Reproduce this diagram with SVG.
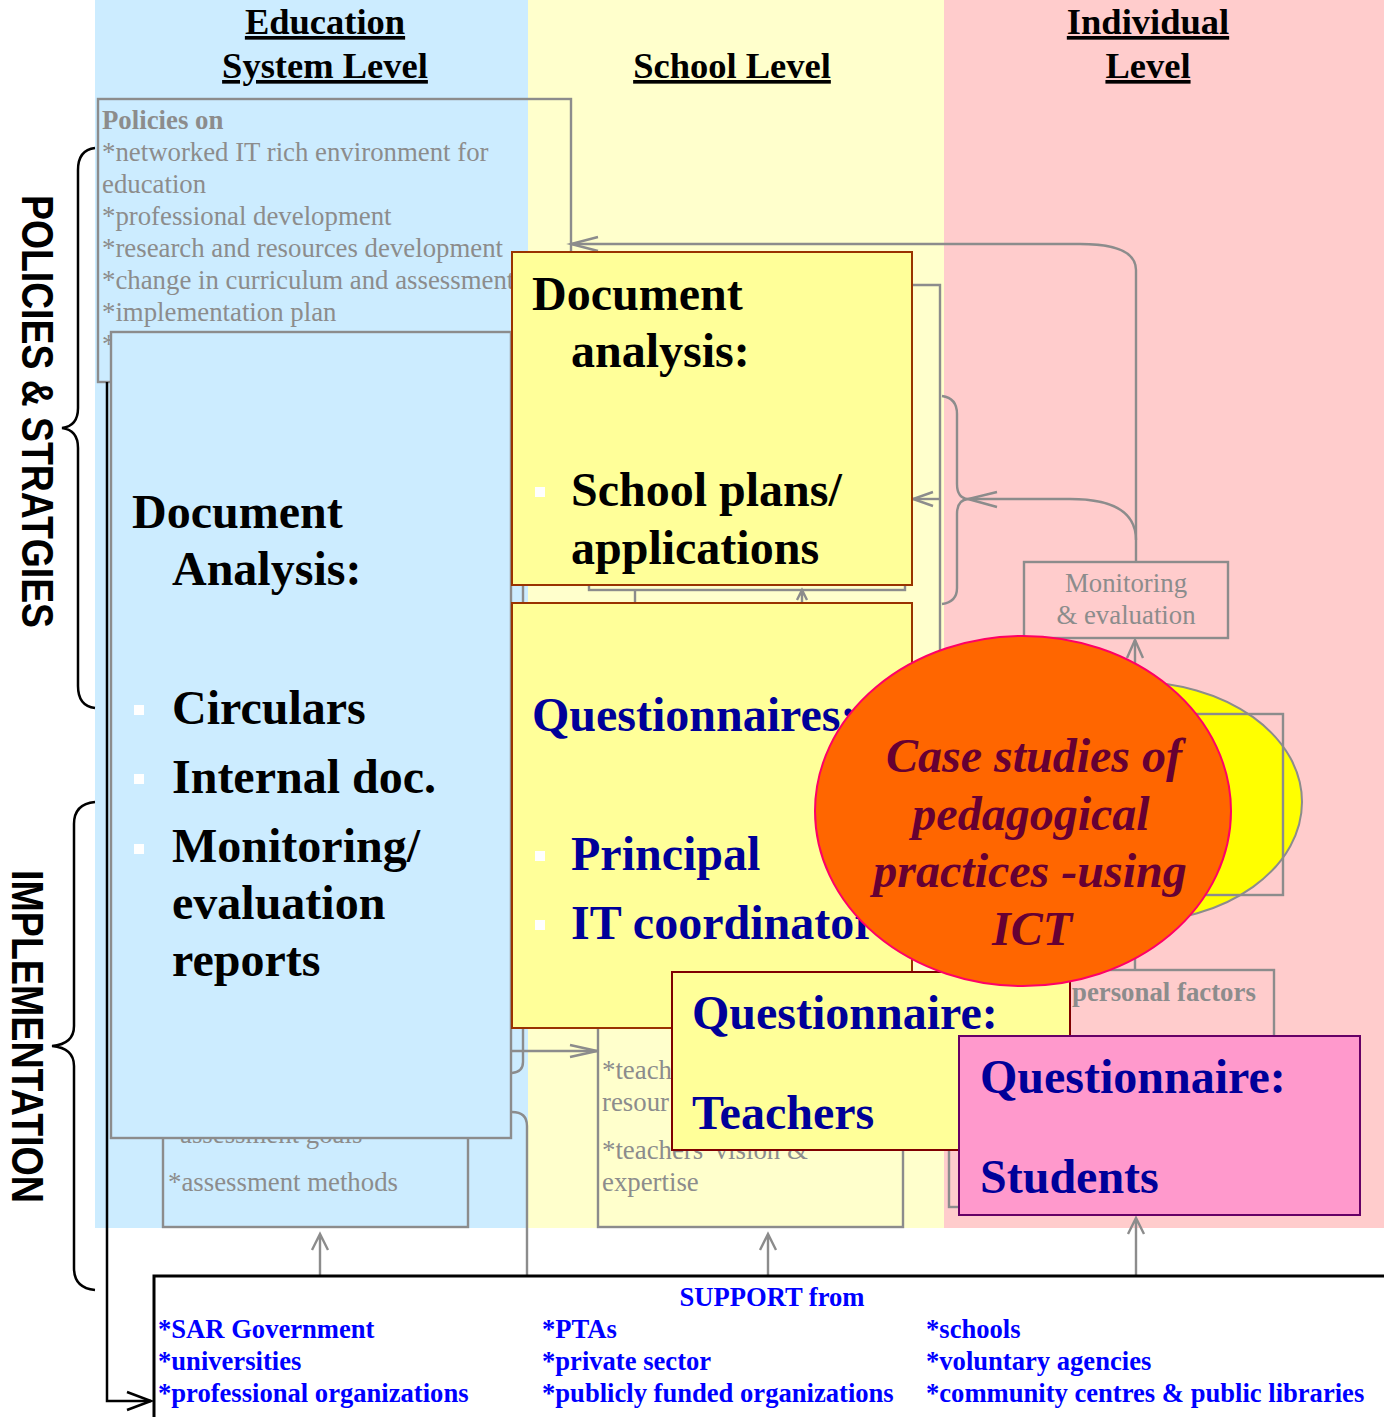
<svg xmlns="http://www.w3.org/2000/svg" width="1384" height="1417" viewBox="0 0 1384 1417">
<style>
.g{stroke:#8c8c8c;stroke-width:2.4;fill:none}
.gt{font-family:'Liberation Serif',serif;font-size:26.8px;fill:#8c8c8c}
.bt{font-family:'Liberation Serif',serif;font-size:48px;font-weight:bold}
.hdr{font-family:'Liberation Serif',serif;font-size:36.5px;font-weight:bold;text-decoration:underline;text-anchor:middle;fill:#000}
.side{font-family:'Liberation Sans',Arial,sans-serif;font-size:44px;font-weight:bold;fill:#000}
.sup{font-family:'Liberation Serif',serif;font-size:26.6px;font-weight:bold;fill:#0000ff}
.blk{stroke:#000;stroke-width:2.5;fill:none}
.bul{fill:#fff}
.navy{fill:#000099}
</style>
<rect width="1384" height="1417" fill="#fff"/>
<g id="bands">
<rect x="95" y="0" width="433" height="1228" fill="#ccecff"/>
<rect x="528" y="0" width="416" height="1228" fill="#ffffcc"/>
<rect x="944" y="0" width="440" height="1228" fill="#ffcccc"/>
</g>
<g id="headers">
<text class="hdr" x="325" y="34">Education</text>
<text class="hdr" x="325" y="78">System Level</text>
<text class="hdr" x="732" y="78">School Level</text>
<text class="hdr" x="1148" y="34">Individual</text>
<text class="hdr" x="1148" y="78">Level</text>
</g>
<g id="side-labels">
<text class="side" transform="translate(22,195) rotate(90)" textLength="433" lengthAdjust="spacingAndGlyphs">POLICIES &amp; STRATGIES</text>
<text class="side" transform="translate(12,870) rotate(90)" textLength="333" lengthAdjust="spacingAndGlyphs">IMPLEMENTATION</text>
<path class="blk" d="M95 148 Q78 150 78 170 V408 Q78 426 62 428 Q78 430 78 448 V686 Q78 706 95 708"/>
<path class="blk" d="M95 802 Q74 804 74 824 V1026 Q74 1044 52 1046 Q74 1048 74 1066 V1268 Q74 1288 95 1290"/>
</g>
<g id="policies">
<rect class="g" x="98" y="99" width="473" height="283"/>
<text class="gt" x="102" y="129" font-weight="bold">Policies on</text>
<text class="gt" x="102" y="161">*networked IT rich environment for</text>
<text class="gt" x="102" y="193">education</text>
<text class="gt" x="102" y="225">*professional development</text>
<text class="gt" x="102" y="257">*research and resources development</text>
<text class="gt" x="102" y="289">*change in curriculum and assessment</text>
<text class="gt" x="102" y="321">*implementation plan</text>
<text class="gt" x="102" y="353">*</text>
</g>
<g id="assessment">
<rect class="g" x="163" y="900" width="305" height="327"/>
<text class="gt" x="180" y="1143">assessment goals</text>
<text class="gt" x="168" y="1191">*assessment methods</text>
</g>
<g id="school-box">
<rect class="g" x="589" y="300" width="316" height="290"/>
</g>
<g id="teachers-info">
<rect class="g" x="598" y="1000" width="305" height="227"/>
<text class="gt" x="602" y="1079">*teach</text>
<text class="gt" x="602" y="1111">resour</text>
<text class="gt" x="602" y="1159">*teachers' vision &amp;</text>
<text class="gt" x="602" y="1191">expertise</text>
</g>
<g id="personal">
<rect class="g" x="949" y="970" width="325" height="237"/>
<text class="gt" x="1072" y="1001" font-weight="bold">personal factors</text>
</g>
<g id="monitoring">
<rect class="g" x="1024" y="562" width="204" height="76"/>
<text class="gt" x="1126" y="592" text-anchor="middle">Monitoring</text>
<text class="gt" x="1126" y="624" text-anchor="middle">&amp; evaluation</text>
</g>
<g id="connectors">
<path class="g" d="M912 285 H940 V980"/>
<path class="g" d="M942 396 Q957 398 957 414 V484 Q957 498 968 499 Q957 500 957 514 V588 Q957 602 942 604"/>
<path class="g" d="M1136 562 V270 Q1136 244 1080 244 H571"/>
<path class="g" d="M598 237 L571 244 L598 251"/>
<path class="g" d="M1136 540 Q1136 499 1070 499 H968"/>
<path class="g" d="M997 492 L968 499 L997 507"/>
<path class="g" d="M940 499 H913"/>
<path class="g" d="M933 492 L913 499 L933 506"/>
<path class="g" d="M1135 970 V640"/>
<path class="g" d="M1127 658 L1135 640 L1143 658"/>
<path class="g" d="M635 590 V603"/>
<path class="g" d="M802 603 V590 M797 600 L802 590 L807 600"/>
<path class="g" d="M523 586 V1062 Q523 1072 512 1073"/>
<path class="g" d="M512 1112 Q527 1112 527 1126 V1275"/>
<path class="g" d="M512 1051 H597"/>
<path class="g" d="M570 1045 L597 1051 L570 1057"/>
<path class="g" d="M320 1275 V1234 M312 1250 L320 1234 L328 1250"/>
<path class="g" d="M768 1275 V1234 M760 1250 L768 1234 L776 1250"/>
<path class="g" d="M1136 1275 V1218 M1128 1234 L1136 1218 L1144 1234"/>
</g>
<g id="doc-analysis-system">
<rect x="111" y="332" width="400" height="806" fill="#ccecff" stroke="#8c8c8c" stroke-width="2.4"/>
<text class="bt" x="132" y="528">Document</text>
<text class="bt" x="172" y="585">Analysis:</text>
<rect class="bul" x="134" y="705" width="10" height="10"/>
<rect class="bul" x="134" y="774" width="10" height="10"/>
<rect class="bul" x="134" y="844" width="10" height="10"/>
<text class="bt" x="172" y="724">Circulars</text>
<text class="bt" x="172" y="793">Internal doc.</text>
<text class="bt" x="172" y="862">Monitoring/</text>
<text class="bt" x="172" y="919">evaluation</text>
<text class="bt" x="172" y="976">reports</text>
</g>
<g id="doc-analysis-school">
<rect x="512" y="252" width="400" height="333" fill="#ffff99" stroke="#993300" stroke-width="2"/>
<text class="bt" x="532" y="310">Document</text>
<text class="bt" x="571" y="367">analysis:</text>
<rect class="bul" x="535" y="487" width="10" height="10"/>
<text class="bt" x="571" y="506">School plans/</text>
<text class="bt" x="571" y="564">applications</text>
</g>
<g id="questionnaires-school">
<rect x="512" y="603" width="400" height="425" fill="#ffff99" stroke="#993300" stroke-width="2"/>
<text class="bt navy" x="532" y="731">Questionnaires:</text>
<rect class="bul" x="535" y="851" width="10" height="10"/>
<rect class="bul" x="535" y="920" width="10" height="10"/>
<text class="bt navy" x="571" y="870">Principal</text>
<text class="bt navy" x="571" y="939">IT coordinator</text>
</g>
<g id="individual-ellipse">
<ellipse cx="1135" cy="802" rx="167" ry="120" fill="#ffff00" stroke="#8c8c8c" stroke-width="2"/>
<rect class="g" x="988" y="714" width="295" height="181"/>
</g>
<g id="questionnaire-teachers">
<rect x="672" y="972" width="398" height="178" fill="#ffff99" stroke="#800000" stroke-width="2"/>
<text class="bt navy" x="692" y="1029">Questionnaire:</text>
<text class="bt navy" x="692" y="1129">Teachers</text>
</g>
<g id="case-studies">
<ellipse cx="1023" cy="811" rx="208" ry="175" fill="#ff6600" stroke="#ff0066" stroke-width="2"/>
<g font-family="'Liberation Serif',serif" font-size="48" font-weight="bold" font-style="italic" fill="#660033" text-anchor="middle">
<text x="1034" y="772">Case studies of</text>
<text x="1031" y="830">pedagogical</text>
<text x="1030" y="887">practices -using</text>
<text x="1032" y="945">ICT</text>
</g>
</g>
<g id="questionnaire-students">
<rect x="959" y="1036" width="401" height="179" fill="#ff99cc" stroke="#660066" stroke-width="2"/>
<text class="bt navy" x="980" y="1093">Questionnaire:</text>
<text class="bt navy" x="980" y="1193">Students</text>
</g>
<g id="support">
<path d="M1384 1276 H154 V1417" fill="#fff" stroke="#000" stroke-width="3"/>
<text class="sup" x="772" y="1306" text-anchor="middle">SUPPORT from</text>
<text class="sup" x="158" y="1338">*SAR Government</text>
<text class="sup" x="158" y="1370">*universities</text>
<text class="sup" x="158" y="1402">*professional organizations</text>
<text class="sup" x="542" y="1338">*PTAs</text>
<text class="sup" x="542" y="1370">*private sector</text>
<text class="sup" x="542" y="1402">*publicly funded organizations</text>
<text class="sup" x="926" y="1338">*schools</text>
<text class="sup" x="926" y="1370">*voluntary agencies</text>
<text class="sup" x="926" y="1402">*community centres &amp; public libraries</text>
</g>
<g id="feedback-line">
<path d="M107 382 V1401 H151" fill="none" stroke="#000" stroke-width="2.5"/>
<path d="M127 1392 L151 1401 L127 1410" fill="none" stroke="#000" stroke-width="2.5"/>
</g>
</svg>
